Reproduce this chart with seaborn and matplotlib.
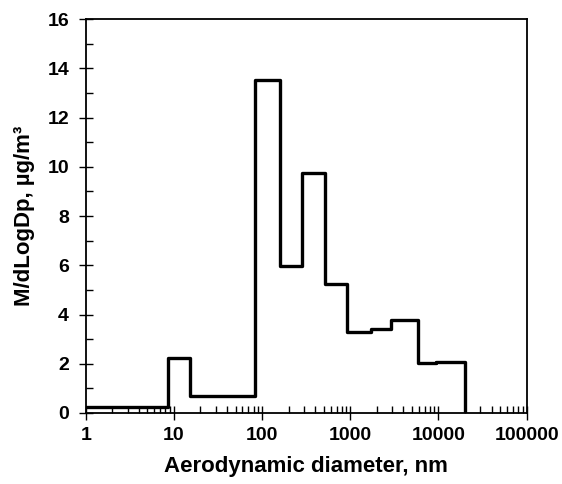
import numpy as np
import pandas as pd
import matplotlib
matplotlib.use("Agg")
import matplotlib.pyplot as plt
from matplotlib.ticker import FixedLocator, LogLocator, NullFormatter, MultipleLocator
import seaborn as sns

# bin edges (nm) and mass concentration per bin
bin_edges = [1, 8.5, 15.2, 84, 161, 281, 518, 926, 1718, 2897, 5914, 9290, 20180]
dm_dlogdp = [0.25, 2.23, 0.69, 13.52, 5.99, 9.74, 5.24, 3.29, 3.41, 3.76, 2.03, 2.08]

x_ticks = [1, 10, 100, 1000, 10000, 100000]
x_ticklabels = ["1", "10", "100", "1000", "10000", "100000"]

sns.set_theme(style="white")
plt.rcParams["font.family"] = ["Liberation Sans", "DejaVu Sans"]
plt.rcParams.update({
    "font.weight": "bold",
    "text.color": "black",
    "axes.labelcolor": "black",
    "xtick.color": "black",
    "ytick.color": "black",
})

df = pd.DataFrame({"Dp": bin_edges, "val": dm_dlogdp + [0.0]})

fig = plt.figure(figsize=(5.62, 4.84), dpi=100)
ax = fig.add_axes([0.1525, 0.1467, 0.7845, 0.814])

sns.lineplot(data=df, x="Dp", y="val", drawstyle="steps-post", estimator=None,
             color="black", linewidth=2.4, ax=ax)

ax.set_xscale("log")
ax.set_xlim(1, 100000)
ax.set_ylim(0, 16)

ax.xaxis.set_major_locator(FixedLocator(x_ticks))
ax.set_xticklabels(x_ticklabels)
ax.xaxis.set_minor_locator(LogLocator(base=10, subs=np.arange(2, 10)))
ax.xaxis.set_minor_formatter(NullFormatter())
ax.yaxis.set_major_locator(MultipleLocator(2))
ax.yaxis.set_minor_locator(MultipleLocator(1))

for sp in ax.spines.values():
    sp.set_color("black")
    sp.set_linewidth(1.3)

ax.tick_params(axis="both", which="major", direction="inout", length=10, width=1,
               color="black", labelcolor="black", labelsize=14, bottom=True, left=True)
ax.tick_params(axis="both", which="minor", direction="in", length=5, width=1,
               color="black", bottom=True, left=True)
ax.tick_params(axis="x", which="major", pad=5)
ax.tick_params(axis="y", which="major", pad=7)
for lab in ax.get_xticklabels() + ax.get_yticklabels():
    lab.set_fontweight("bold")

ax.set_xlabel("Aerodynamic diameter, nm", fontsize=16, fontweight="bold",
              color="black", labelpad=9)
ax.set_ylabel("M/dLogDp, µg/m³", fontsize=16, fontweight="bold",
              color="black", labelpad=9)
ax.grid(False)

fig.savefig("out.png", dpi=100, facecolor="white")
